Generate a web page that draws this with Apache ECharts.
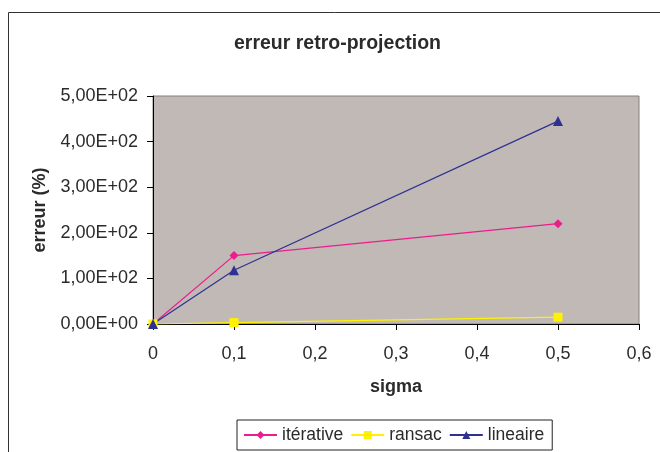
<!DOCTYPE html>
<html><head><meta charset="utf-8">
<script src="https://cdn.jsdelivr.net/npm/echarts@6/dist/echarts.min.js"></script>
<style>html,body{margin:0;padding:0;background:#fff}#c{width:660px;height:452px}</style>
</head><body><div id="c"></div>
<script>
var sigma = [0, 0.1, 0.5];
var iterative = [0, 150, 220];
var ransac = [0, 3, 15];
var lineaire = [0, 118, 445];
var seriesNames = ['itérative', 'ransac', 'lineaire'];

function pairs(ys){ return sigma.map(function(x,i){return [x, ys[i]];}); }
function sci(v){
  if (v === 0) return '0,00E+00';
  var e = Math.floor(Math.log10(Math.abs(v)));
  var m = v / Math.pow(10, e);
  var es = (e < 0 ? '-' : '+') + (Math.abs(e) < 10 ? '0' : '') + Math.abs(e);
  return m.toFixed(2).replace('.', ',') + 'E' + es;
}
var font = 'Liberation Sans, Arial, sans-serif';
var txt = '#2b2b2b';
var chart = echarts.init(document.getElementById('c'));
chart.setOption({
  animation: false,
  textStyle: {fontFamily: font},
  title: {text: 'erreur retro-projection', left: 229, top: 29,
    textStyle: {fontFamily: font, fontSize: 19.5, fontWeight: 'bold', color: txt}},
  graphic: [{type: 'rect', shape: {x: 8.5, y: 12.5, width: 700, height: 500}, silent: true,
    style: {fill: 'none', stroke: '#333', lineWidth: 1}}],
  grid: {left: 153, right: 21, top: 96, bottom: 128, show: true,
    backgroundColor: '#C0B9B6', borderColor: '#808080', borderWidth: 1},
  xAxis: {type: 'value', min: 0, max: 0.6, interval: 0.1,
    name: 'sigma', nameLocation: 'middle', nameGap: 54,
    nameTextStyle: {fontFamily: font, fontSize: 18, fontWeight: 'bold', color: txt},
    axisLine: {lineStyle: {color: '#000'}},
    axisTick: {show: true, length: 6, lineStyle: {color: '#000'}},
    splitLine: {show: false},
    axisLabel: {fontSize: 18, color: txt, margin: 21,
      formatter: function(v){return String(+v.toFixed(1)).replace('.', ',');}}},
  yAxis: {type: 'value', min: 0, max: 500, interval: 100,
    name: 'erreur (%)', nameLocation: 'middle', nameGap: 100, nameRotate: 90,
    nameTextStyle: {fontFamily: font, fontSize: 18, fontWeight: 'bold', color: txt},
    axisLine: {show: true, lineStyle: {color: '#000'}},
    axisTick: {show: true, length: 6, lineStyle: {color: '#000'}},
    splitLine: {show: false},
    axisLabel: {fontSize: 18, color: txt, margin: 15, formatter: sci}},
  legend: {left: 237, top: 420, padding: [6, 8, 6, 6], itemGap: 7, itemWidth: 33, itemHeight: 10,
    borderColor: '#222', borderWidth: 1, backgroundColor: '#fff',
    textStyle: {fontFamily: font, fontSize: 17.5, color: txt},
    data: seriesNames},
  series: [
    {name: seriesNames[0], type: 'line', data: pairs(iterative), symbol: 'diamond', symbolSize: 9,
     itemStyle: {color: '#EC1C8C'}, lineStyle: {width: 1.2, color: '#EC1C8C'}},
    {name: seriesNames[1], type: 'line', data: pairs(ransac), symbol: 'rect', symbolSize: 9,
     itemStyle: {color: '#FFF200'}, lineStyle: {width: 1.2, color: '#FFF200'}},
    {name: seriesNames[2], type: 'line', data: pairs(lineaire), symbol: 'triangle', symbolSize: 10,
     itemStyle: {color: '#2E3192'}, lineStyle: {width: 1.2, color: '#2E3192'}}
  ]
});
</script></body></html>
